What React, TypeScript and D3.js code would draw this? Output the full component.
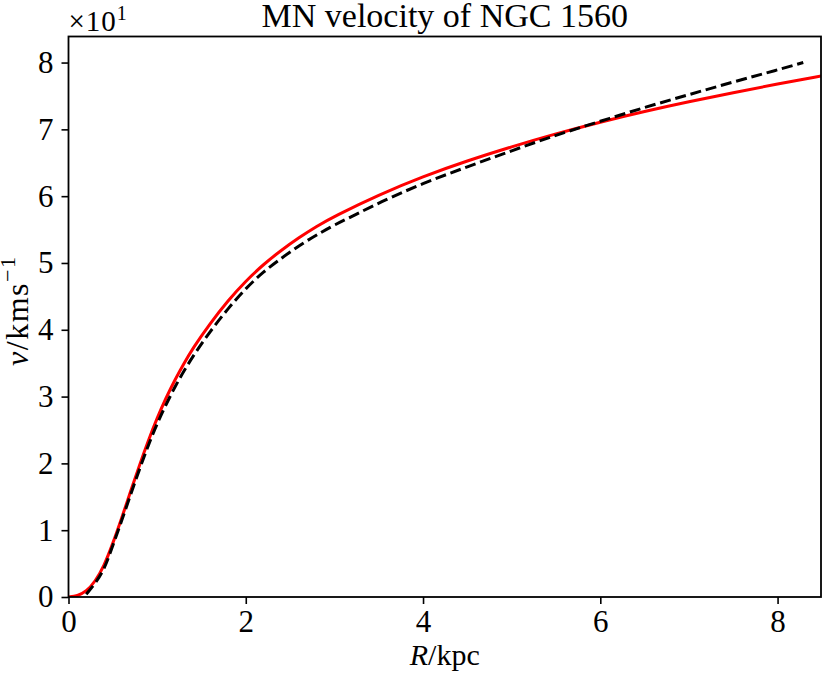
import React, { useEffect, useRef } from 'react';
import * as d3 from 'd3';

// model curve (red, solid)
const modelR = [0, 0.1, 0.2, 0.3, 0.4, 0.5, 0.6, 0.7, 0.8, 0.9, 1.0, 1.1, 1.2, 1.3, 1.4, 1.6, 1.8, 2.0, 2.2, 2.4, 2.6, 2.8, 3.0, 3.5, 4.0, 4.5, 5.0, 5.5, 6.0, 6.5, 7.0, 7.5, 8.0, 8.5];
const modelV = [0, 0.15, 0.8, 2.3, 4.6, 8.0, 11.8, 15.8, 19.7, 23.4, 26.8, 29.8, 32.5, 34.9, 37.2, 41.0, 44.4, 47.3, 49.8, 51.9, 53.8, 55.5, 57.0, 60.2, 62.95, 65.3, 67.4, 69.35, 71.1, 72.7, 74.15, 75.5, 76.8, 78.0];

// observed curve (black, dashed)
const obsR = [0.2, 0.3, 0.4, 0.5, 0.6, 0.7, 0.8, 0.9, 1.0, 1.2, 1.4, 1.6, 1.8, 2.0, 2.2, 2.4, 2.6, 2.8, 3.0, 3.25, 3.5, 4.0, 4.5, 5.0, 5.5, 6.0, 6.5, 7.0, 7.5, 8.0, 8.29];
const obsV = [0.4, 2.0, 4.0, 7.7, 11.4, 15.3, 19.1, 22.7, 26.0, 31.6, 36.0, 39.8, 43.2, 46.2, 48.7, 50.7, 52.6, 54.2, 55.7, 57.3, 59.0, 61.95, 64.4, 66.8, 69.15, 71.2, 73.3, 75.2, 77.1, 78.9, 80.0];

const xTicks = [0, 2, 4, 6, 8];
const yTicks = [0, 10, 20, 30, 40, 50, 60, 70, 80];

const W = 822;
const H = 674;
const FONT = 'Liberation Serif';

export default function App() {
  const ref = useRef(null);

  useEffect(() => {
    const svg = d3.select(ref.current);
    svg.selectAll('*').remove();

    const left = 68.5, right = 821, top = 36.5, bottom = 597;

    const x = d3.scaleLinear().domain([0, 8.49]).range([left, right]);
    const y = d3.scaleLinear().domain([0, 83.9]).range([bottom, top]);

    svg.append('clipPath').attr('id', 'plotclip')
      .append('rect')
      .attr('x', left).attr('y', top)
      .attr('width', right - left).attr('height', bottom - top);

    const smooth = d3.line()
      .x((d: any) => x(d[0]))
      .y((d: any) => y(d[1]))
      .curve(d3.curveBasis);

    const g = svg.append('g').attr('clip-path', 'url(#plotclip)');

    g.append('path')
      .datum(modelR.map((r, i) => [r, modelV[i]]))
      .attr('fill', 'none')
      .attr('stroke', '#ff0000')
      .attr('stroke-width', 3)
      .attr('d', smooth);

    g.append('path')
      .datum(obsR.map((r, i) => [r, obsV[i]]))
      .attr('fill', 'none')
      .attr('stroke', '#000')
      .attr('stroke-width', 3)
      .attr('stroke-dasharray', '11,4.8')
      .attr('d', smooth);

    // frame
    svg.append('rect')
      .attr('x', left).attr('y', top)
      .attr('width', right - left).attr('height', bottom - top)
      .attr('fill', 'none')
      .attr('stroke', '#000')
      .attr('stroke-width', 1.8);

    // x axis
    const xa = svg.append('g')
      .attr('transform', `translate(0,${bottom})`)
      .call(d3.axisBottom(x).tickValues(xTicks).tickSize(7).tickPadding(6).tickFormat(d3.format('d')));
    xa.select('.domain').remove();

    // y axis
    const ya = svg.append('g')
      .attr('transform', `translate(${left},0)`)
      .call(d3.axisLeft(y).tickValues(yTicks).tickSize(7).tickPadding(8).tickFormat((d: any) => `${d / 10}`));
    ya.select('.domain').remove();

    xa.attr('font-family', FONT).attr('font-size', 31);
    ya.attr('font-family', FONT).attr('font-size', 31);
    svg.selectAll('.tick line').attr('stroke', '#000').attr('stroke-width', 1.6);
    svg.selectAll('.tick text').attr('fill', '#000');

    // offset text
    const off = svg.append('text')
      .attr('x', left)
      .attr('y', 31)
      .attr('font-family', FONT)
      .attr('font-size', 29)
      .attr('letter-spacing', 1);
    off.append('tspan').text('×10');
    off.append('tspan').attr('dy', -11).attr('font-size', 20).text('1');

    // title
    svg.append('text')
      .attr('x', (left + right) / 2)
      .attr('y', 27)
      .attr('text-anchor', 'middle')
      .attr('font-family', FONT)
      .attr('font-size', 34)
      .text('MN velocity of NGC 1560');

    // x label
    const xl = svg.append('text')
      .attr('x', (left + right) / 2)
      .attr('y', 665)
      .attr('text-anchor', 'middle')
      .attr('font-family', FONT)
      .attr('font-size', 30);
    xl.append('tspan').attr('font-style', 'italic').text('R');
    xl.append('tspan').text('/kpc');

    // y label
    const yl = svg.append('text')
      .attr('transform', `translate(28,${(top + bottom) / 2 - 6}) rotate(-90)`)
      .attr('text-anchor', 'middle')
      .attr('font-family', FONT)
      .attr('font-size', 32)
      .attr('letter-spacing', 1.5);
    yl.append('tspan').attr('font-style', 'italic').text('v');
    yl.append('tspan').text('/kms');
    yl.append('tspan').attr('dy', -13).attr('font-size', 22).text('−1');
  }, []);

  return (
    <svg
      ref={ref}
      width={W}
      height={H}
      style={{ position: 'fixed', left: 0, top: 0, background: '#fff' }}
    />
  );
}
